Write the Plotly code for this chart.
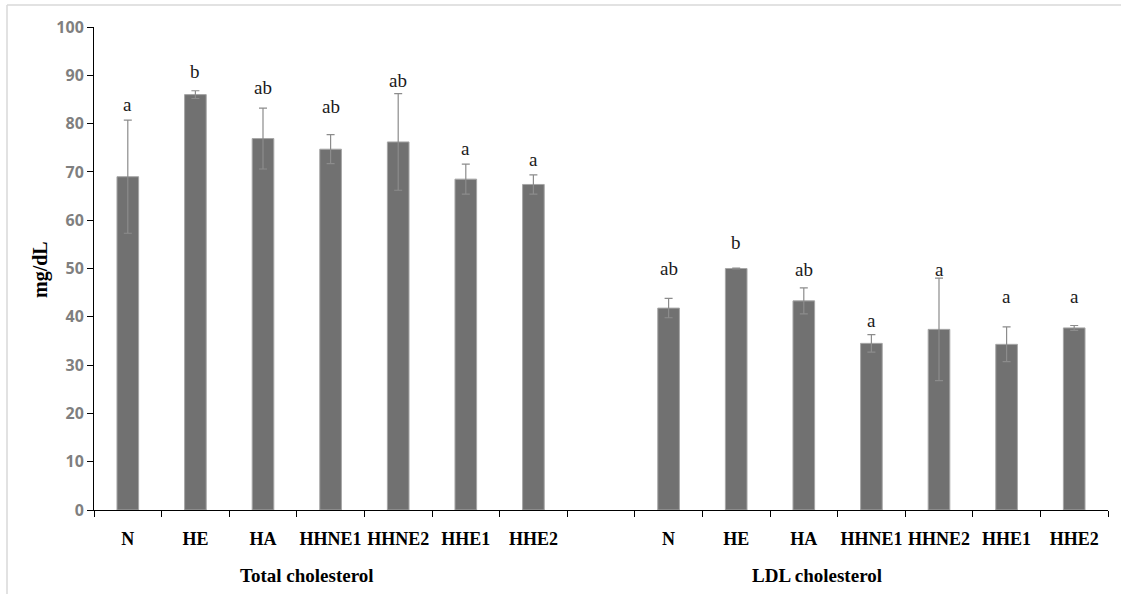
import plotly.graph_objects as go

# ---- data -------------------------------------------------------------
groups = ["N", "HE", "HA", "HHNE1", "HHNE2", "HHE1", "HHE2"]

total_mean = [69.0, 86.0, 76.9, 74.7, 76.2, 68.5, 67.4]
total_sd = [11.7, 0.8, 6.3, 3.0, 10.0, 3.1, 2.0]
total_letters = ["a", "b", "ab", "ab", "ab", "a", "a"]

ldl_mean = [41.8, 50.0, 43.3, 34.5, 37.4, 34.3, 37.7]
ldl_sd = [2.0, 0.1, 2.7, 1.8, 10.6, 3.6, 0.5]
ldl_letters = ["ab", "b", "ab", "a", "a", "a", "a"]

panel_titles = ["Total cholesterol", "LDL cholesterol"]
y_title = "mg/dL"
y_ticks = [0, 10, 20, 30, 40, 50, 60, 70, 80, 90, 100]

# ---- layout helpers ---------------------------------------------------
# gap between the top of each error bar and its significance letter
total_gap = [3.2, 3.9, 4.3, 5.9, 2.8, 3.3, 3.2]
ldl_gap = [6.2, 5.3, 3.7, 3.0, 1.8, 6.3, 6.0]

x_total = list(range(0, 7))
x_ldl = list(range(8, 15))
x_all = x_total + x_ldl

bar_fill = "#717171"
bar_edge = "#a6a6a6"
err_col = "#8c8c8c"
serif = "Liberation Serif"

W, H = 1121, 594
ml, mr, mt, mb = 94, 13, 27, 84
pw, ph = W - ml - mr, H - mt - mb

fig = go.Figure()
fig.add_trace(go.Bar(
    x=x_all,
    y=total_mean + ldl_mean,
    width=0.32,
    marker=dict(color=bar_fill, line=dict(color=bar_edge, width=1)),
    error_y=dict(type="data", array=total_sd + ldl_sd, visible=True,
                 color=err_col, thickness=1.2, width=4),
    showlegend=False,
    hoverinfo="skip",
))

annotations = []
for xs, means, sds, letters, gaps in [
    (x_total, total_mean, total_sd, total_letters, total_gap),
    (x_ldl, ldl_mean, ldl_sd, ldl_letters, ldl_gap),
]:
    for x, m, s, t, g in zip(xs, means, sds, letters, gaps):
        annotations.append(dict(
            x=x, y=m + s + g, xref="x", yref="y", text=t, showarrow=False,
            yanchor="middle",
            font=dict(family=serif, size=19, color="#1a1a1a"),
        ))

# panel titles beneath the category labels
for xpos, t in zip([2.65, 10.2], panel_titles):
    annotations.append(dict(
        x=xpos, y=-(575 - (H - mb)) / ph, xref="x", yref="paper", text=t,
        showarrow=False, yanchor="middle",
        font=dict(family=serif, size=19, color="#000000", weight="bold"),
    ))

# y-axis title
annotations.append(dict(
    x=(40 - ml) / pw, y=(H - mb - 270) / ph, xref="paper", yref="paper",
    text=y_title, showarrow=False, textangle=-90,
    xanchor="center", yanchor="middle",
    font=dict(family=serif, size=20, color="#000000", weight="bold"),
))

fig.update_layout(
    width=W, height=H,
    margin=dict(l=ml, r=mr, t=mt, b=mb),
    paper_bgcolor="white", plot_bgcolor="white",
    annotations=annotations,
    shapes=[
        dict(type="line", xref="paper", yref="paper",
             x0=(7 - ml) / pw, x1=(W - ml) / pw,
             y0=(H - mb - 5) / ph, y1=(H - mb - 5) / ph,
             line=dict(color="#d9d9d9", width=1.5)),
        dict(type="line", xref="paper", yref="paper",
             x0=(7 - ml) / pw, x1=(7 - ml) / pw,
             y0=(H - mb - 5) / ph, y1=-mb / ph,
             line=dict(color="#d9d9d9", width=1.5)),
    ],
)

fig.update_xaxes(
    range=[-0.5, 14.5],
    tickmode="array",
    tickvals=x_all,
    ticktext=groups + groups,
    ticks="",
    showline=True, linecolor="#000000", linewidth=1,
    showgrid=False, zeroline=False,
    tickfont=dict(family=serif, size=18, color="#000000", weight="bold"),
    ticklabelstandoff=12,
    minor=dict(tickmode="linear", tick0=-0.5, dtick=1, ticks="outside",
               ticklen=6, tickcolor="#000000", tickwidth=1, showgrid=False),
)

fig.update_yaxes(
    range=[0, 100],
    tickmode="array",
    tickvals=y_ticks,
    ticks="outside", ticklen=6, tickcolor="#000000", tickwidth=1,
    showline=True, linecolor="#000000", linewidth=1,
    showgrid=False, zeroline=False,
    tickfont=dict(family="Open Sans", size=16, color="#7f7f7f", weight="bold"),
)

fig.write_html("out.html")
